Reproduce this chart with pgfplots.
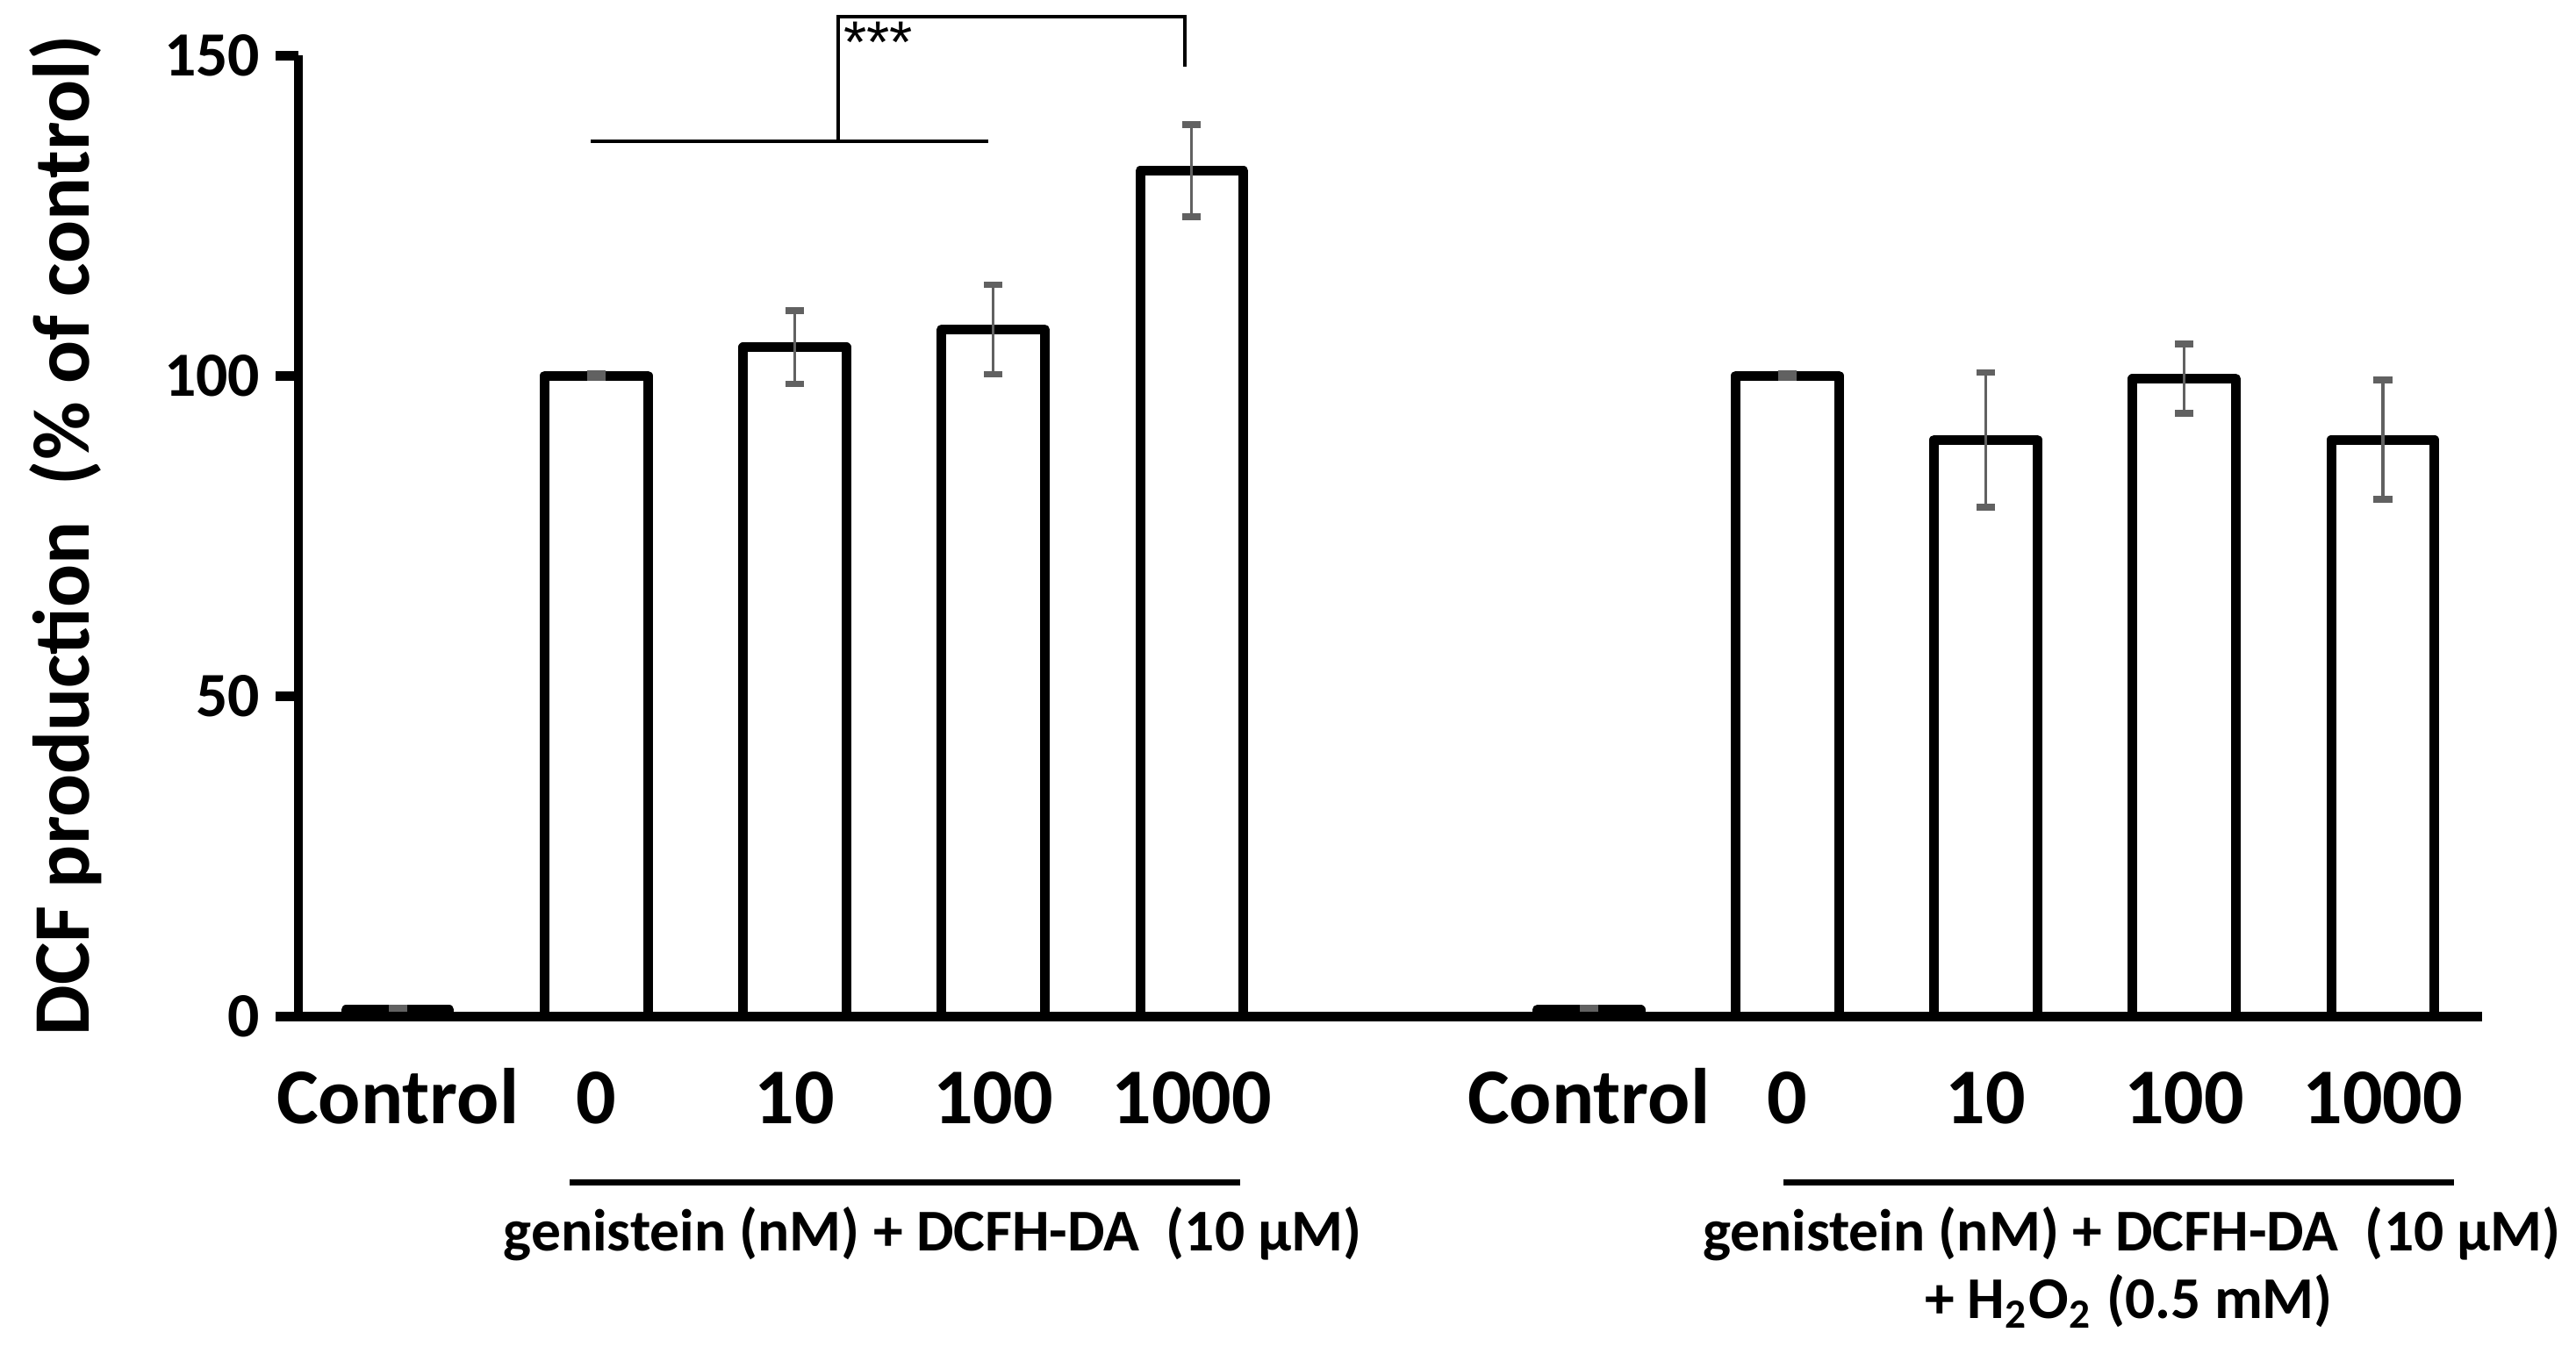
\documentclass[border=0pt]{standalone}
\usepackage{fontspec}
\setmainfont{Carlito}
\newfontfamily\starfont{Liberation Sans}
\usepackage{pgfplots}
\pgfplotsset{compat=1.18}
\usepackage{pgfplotstable}

% DCF production, % of control (mean and error)
\pgfplotstableread{
x y err
0 1.0 0.3
1 100.0 0.3
2 104.4 5.7
3 107.2 7.0
4 132.0 7.2
6 1.0 0.3
7 100.0 0.3
8 90.0 10.5
9 99.5 5.4
10 90.0 9.3
}\dcf

\begin{document}
\begin{tikzpicture}
\useasboundingbox (0,0) rectangle (14.675cm,7.75cm);
\begin{axis}[
    at={(1.7cm,1.96cm)}, anchor=south west,
    width=12.44cm, height=5.475cm, scale only axis,
    xmin=-0.5, xmax=10.5, ymin=0, ymax=150,
    axis x line*=bottom, axis y line*=left,
    axis line style={-, line width=1.56pt, black},
    axis on top,
    clip=false,
    xtick={0,1,2,3,4,6,7,8,9,10},
    xticklabels={Control,0,10,100,1000,Control,0,10,100,1000},
    x tick style={draw=none},
    xticklabel style={anchor=base, yshift=-0.48cm, font=\bfseries\fontsize{12.8}{14}\selectfont},
    ytick={0,50,100,150},
    tick align=outside,
    major tick length=0.13cm,
    y tick style={line width=1.56pt, black},
    yticklabel style={font=\bfseries\fontsize{10.2}{12}\selectfont, xshift=1pt},
    /pgf/number format/assume math mode=true,
    ylabel={DCF production\ \ (\% of control)},
    ylabel style={at={(axis description cs:-0.1065,0.5)}, anchor=center,
        font=\bfseries\fontsize{13}{15}\selectfont},
]
\addplot[ybar, bar width=0.52, bar shift=0pt, draw=black, fill=white,
    line width=1.56pt, line join=round,
    error bars/.cd, y dir=both, y explicit,
    error bar style={line width=0.45pt, color=black!62},
    error mark options={rotate=90, mark size=1.5pt, line width=1.1pt, color=black!62}]
    table[x=x, y=y, y error=err] {\dcf};

% significance bracket
\draw[line width=0.57pt] (axis cs:0.973,136.6) -- (axis cs:2.973,136.6);
\draw[line width=0.57pt] (axis cs:2.217,136.6) -- (axis cs:2.217,156)
    -- (axis cs:3.965,156) -- (axis cs:3.965,148.2);
\node[anchor=north west, inner sep=0pt, font=\starfont\fontsize{9.6}{10}\selectfont]
    at (axis cs:2.24,155.4) {***};

% group labels
\draw[line width=1pt] (axis cs:0.867,-26) -- (axis cs:4.243,-26);
\node[anchor=base, font=\bfseries\fontsize{9.6}{11}\selectfont]
    at (axis cs:2.695,-36.7) {genistein (nM) + DCFH-DA\ \ (10 µM)};
\draw[line width=1pt] (axis cs:6.982,-26) -- (axis cs:10.358,-26);
\node[anchor=base, font=\bfseries\fontsize{9.6}{11}\selectfont]
    at (axis cs:8.735,-36.7) {genistein (nM) + DCFH-DA\ \ (10 µM)};
\node[anchor=base, font=\bfseries\fontsize{9.6}{11}\selectfont]
    at (axis cs:8.72,-47.2) {+ H\textsubscript{2}O\textsubscript{2} (0.5 mM)};
\end{axis}
\end{tikzpicture}
\end{document}
